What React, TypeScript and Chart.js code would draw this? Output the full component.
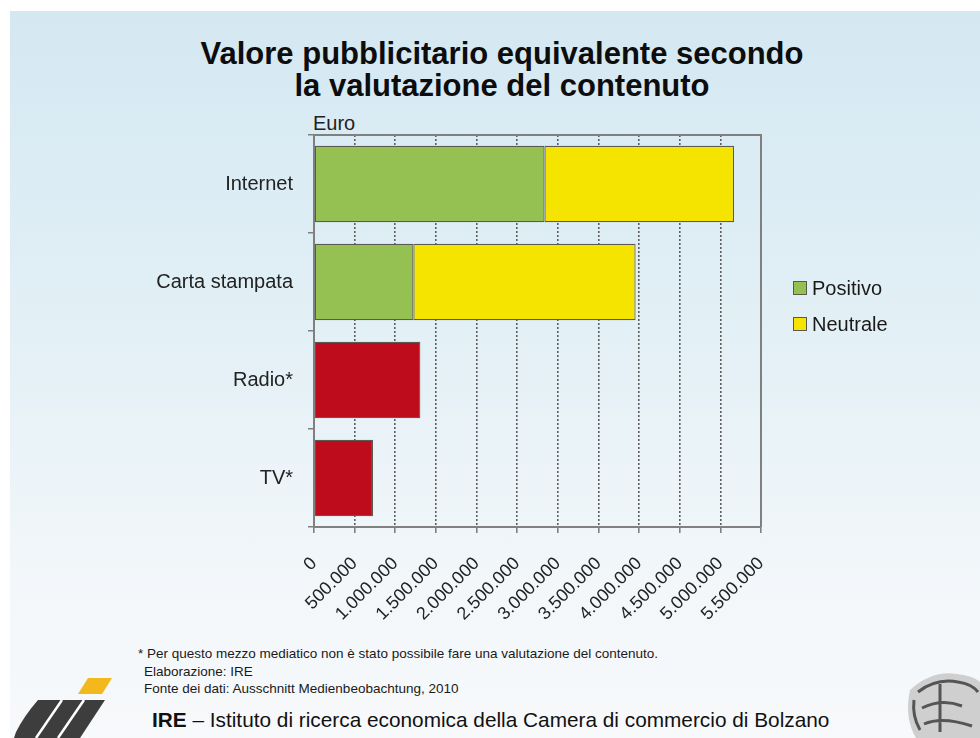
import React, { useEffect, useRef } from "react";
import { Chart, registerables } from "chart.js";

Chart.register(...registerables);

// ---------- data ----------
const categories = ["Internet", "Carta stampata", "Radio*", "TV*"];
const positivo = [2836000, 1223000, null, null];
const neutrale = [2332000, 2734000, null, null];
const nonValutato = [null, null, 1309000, 727000];
const xMin = 0;
const xMax = 5500000;
const xStep = 500000;
const legendLabels = ["Positivo", "Neutrale"];
const titleLines = ["Valore pubblicitario equivalente secondo", "la valutazione del contenuto"];
const unitLabel = "Euro";
const footnotes = [
  "* Per questo mezzo mediatico non è stato possibile fare una valutazione del contenuto.",
  "Elaborazione: IRE",
  "Fonte dei dati: Ausschnitt Medienbeobachtung, 2010",
];
const footerBold = "IRE";
const footerRest = " – Istituto di ricerca economica della Camera di commercio di Bolzano";

// ---------- styles ----------
const FONT = "'Liberation Sans', Arial, Helvetica, sans-serif";
const GREEN = "#94c151";
const YELLOW = "#f4e400";
const RED = "#bf0c1d";
const BAR_BORDER = "#5a5a50";
const AXIS = "#808080";

const fmt = (v: number) => String(v).replace(/\B(?=(\d{3})+(?!\d))/g, ".");

const framePlugin = {
  id: "frame",
  afterDraw(chart: any) {
    const { ctx, chartArea } = chart;
    ctx.save();
    ctx.strokeStyle = AXIS;
    ctx.lineWidth = 2;
    ctx.setLineDash([]);
    ctx.beginPath();
    ctx.moveTo(chartArea.left, chartArea.top);
    ctx.lineTo(chartArea.right, chartArea.top);
    ctx.lineTo(chartArea.right, chartArea.bottom);
    ctx.stroke();
    ctx.restore();
  },
};

function BarChart() {
  const ref = useRef<HTMLCanvasElement | null>(null);
  useEffect(() => {
    if (!ref.current) return;
    const chart = new Chart(ref.current, {
      type: "bar",
      data: {
        labels: categories,
        datasets: [
          { label: legendLabels[0], data: positivo, backgroundColor: GREEN },
          { label: legendLabels[1], data: neutrale, backgroundColor: YELLOW },
          { label: "", data: nonValutato, backgroundColor: RED },
        ].map((d) => ({
          ...d,
          borderColor: BAR_BORDER,
          borderWidth: 1.2,
          borderSkipped: false,
          categoryPercentage: 1,
          barPercentage: 0.78,
        })),
      },
      options: {
        indexAxis: "y",
        animation: false,
        responsive: false,
        maintainAspectRatio: false,
        layout: { padding: { top: 135, right: 219, left: 0, bottom: 0 } },
        plugins: {
          legend: { display: false },
          title: { display: false },
          tooltip: { enabled: false },
        },
        scales: {
          x: {
            stacked: true,
            min: xMin,
            max: xMax,
            afterFit: (s: any) => {
              s.height = 113;
            },
            ticks: {
              stepSize: xStep,
              autoSkip: false,
              minRotation: 45,
              maxRotation: 45,
              padding: 20,
              color: "#222222",
              font: { family: FONT, size: 18 },
              callback: (v: any) => fmt(Number(v)),
            },
            grid: {
              color: "#5e5e5e",
              lineWidth: 1.6,
              tickBorderDash: [],
              tickColor: AXIS,
              tickLength: 6,
              drawTicks: true,
            },
            border: { display: true, color: AXIS, width: 2, dash: [2, 2] },
          },
          y: {
            stacked: true,
            afterFit: (s: any) => {
              s.width = 314;
            },
            ticks: {
              padding: 15,
              color: "#222222",
              font: { family: FONT, size: 20 },
            },
            grid: {
              drawOnChartArea: false,
              drawTicks: true,
              tickLength: 6,
              color: AXIS,
              lineWidth: 1.5,
              offset: true,
            },
            border: { display: true, color: AXIS, width: 2 },
          },
        },
      },
      plugins: [framePlugin],
    } as any);
    return () => chart.destroy();
  }, []);
  return (
    <canvas
      ref={ref}
      width={980}
      height={640}
      style={{ position: "absolute", left: 0, top: 0, width: 980, height: 640 }}
    />
  );
}

export default function App() {
  const legendColors = [GREEN, YELLOW];
  return (
    <div
      style={{
        position: "fixed",
        left: 0,
        top: 0,
        width: 980,
        height: 738,
        overflow: "hidden",
        background: "#ffffff",
        fontFamily: FONT,
        color: "#111",
      }}
    >
      <div
        style={{
          position: "absolute",
          left: 10,
          top: 11,
          right: 0,
          bottom: 0,
          background: "linear-gradient(180deg, #d4e8f2 0%, #e3f0f6 45%, #f3f7fa 80%, #f7f9fb 100%)",
        }}
      />
      <div
        style={{
          position: "absolute",
          left: 12,
          top: 38,
          width: 980,
          textAlign: "center",
          fontSize: 31,
          fontWeight: "bold",
          lineHeight: "32px",
          color: "#0d0d0d",
        }}
      >
        {titleLines.map((t, i) => (
          <div key={i}>{t}</div>
        ))}
      </div>
      <div style={{ position: "absolute", left: 313, top: 113, fontSize: 20, lineHeight: "20px", color: "#222" }}>
        {unitLabel}
      </div>
      <BarChart />
      {legendLabels.map((l, i) => (
        <div
          key={l}
          style={{
            position: "absolute",
            left: 793,
            top: 277 + i * 36,
            height: 22,
            display: "flex",
            alignItems: "center",
            fontSize: 20,
            color: "#1a1a1a",
          }}
        >
          <span
            style={{
              display: "inline-block",
              width: 12,
              height: 12,
              background: legendColors[i],
              border: `1.5px solid ${BAR_BORDER}`,
              marginRight: 5,
            }}
          />
          {l}
        </div>
      ))}
      <div style={{ position: "absolute", left: 138, top: 645, fontSize: 13.5, lineHeight: "17.5px", color: "#1a1a1a", whiteSpace: "nowrap" }}>
        {footnotes.map((f, i) => (
          <div key={i} style={{ paddingLeft: i === 0 ? 0 : 6 }}>
            {f}
          </div>
        ))}
      </div>
      <div style={{ position: "absolute", left: 152, top: 707, fontSize: 20.8, lineHeight: "26px", color: "#111", whiteSpace: "nowrap" }}>
        <b>{footerBold}</b>
        {footerRest}
      </div>
      <svg style={{ position: "absolute", left: 0, top: 660 }} width={130} height={78}>
        <polygon points="88,18 112,18 102,34 78,34" fill="#f2b81c" />
        <path d="M38,40 L105,40 L80,78 L14,78 L16,72 Q24,56 38,40 Z" fill="#3d3d3d" />
        <line x1="62" y1="40" x2="36" y2="78" stroke="#ffffff" strokeWidth="2.5" />
        <line x1="84" y1="40" x2="58" y2="78" stroke="#ffffff" strokeWidth="2.5" />
      </svg>
      <svg style={{ position: "absolute", left: 902, top: 668 }} width={78} height={70}>
        <path d="M8,22 Q30,2 55,6 Q72,8 78,14 L78,70 L14,70 Q2,50 8,22 Z" fill="#cfcfcf" />
        <path d="M16,24 Q34,10 56,14 Q70,16 76,24 M20,40 Q40,30 60,38 M38,16 L38,64 M22,56 Q40,48 70,58 M12,32 Q10,48 18,62" stroke="#555" strokeWidth="3" fill="none" />
      </svg>
    </div>
  );
}
